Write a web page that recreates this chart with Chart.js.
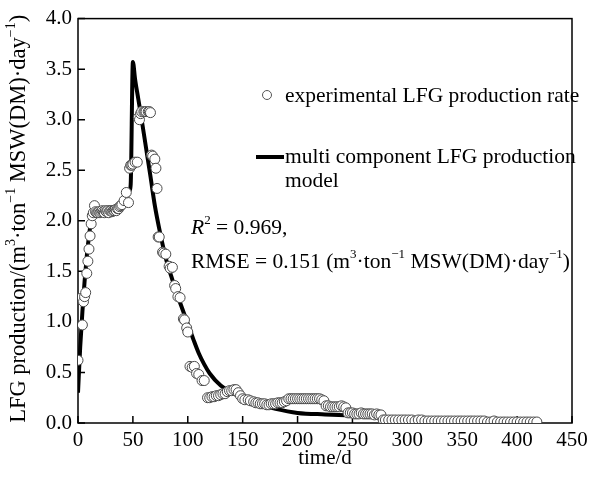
<!DOCTYPE html>
<html>
<head>
<meta charset="utf-8">
<script src="https://cdn.jsdelivr.net/npm/chart.js@4"></script>
<style>
  html, body { margin: 0; padding: 0; background: #fff; }
</style>
</head>
<body>
<canvas id="chart" width="596" height="479"></canvas>
<script>
// measured LFG production rate (days, m3/ton/day)
const expDays = [0, 1, 4, 5, 6, 7, 8, 9, 10, 11, 12, 13, 14, 15, 16, 17, 18, 19, 20, 21, 22, 23, 24, 25, 26, 27, 28, 29, 30, 31, 32, 33, 34, 35, 36, 37, 38, 39, 40, 42, 44, 46, 47, 48, 49, 50, 52, 54, 55, 56, 57, 58, 60, 61, 62, 64, 65, 66, 67, 68, 70, 71, 72,
  73, 74, 77, 78, 80, 83, 84, 86, 88, 89, 91, 93, 96, 97, 99, 100, 102, 104, 106, 108, 110, 113, 115,
  118, 120, 122, 124, 126, 128, 130, 132, 134, 136, 138, 140, 142, 144, 146, 148, 150, 152, 155, 157,
  160, 162, 164, 166, 168, 170, 172, 174, 176, 178, 180, 182, 184, 186, 188, 190,
  192, 194, 196, 198, 200, 202, 204, 206, 208, 210, 212, 214, 216, 218, 220, 222, 224,
  226, 228, 230, 232, 234, 236, 238, 240, 242, 244,
  246, 248, 250, 252, 254, 256, 258, 260, 262, 264, 266, 268, 270, 272, 274, 276,
  278, 280, 283, 286, 289, 292, 295, 298, 301, 304, 307, 310, 313, 316, 319, 322, 325, 328, 331, 334, 337, 340,
  343, 346, 349, 352, 355, 358, 361, 364, 367, 370, 373, 376, 379, 382, 385, 388, 391, 394, 397, 400, 403, 406, 409, 412, 415, 418];
const expRate = [0.62, 1.23, 0.97, 1.20, 1.25, 1.29, 1.48, 1.60, 1.72, 1.85, 1.97, 2.05, 2.08, 2.15, 2.09, 2.08, 2.08, 2.09, 2.08, 2.09, 2.10, 2.09, 2.08, 2.10, 2.09, 2.10, 2.08, 2.10, 2.10, 2.09, 2.10, 2.10, 2.11, 2.10, 2.12, 2.12, 2.14, 2.15, 2.16, 2.20, 2.28, 2.18, 2.52, 2.55, 2.55, 2.56, 2.58, 2.58, 3.02, 3.00, 3.06, 3.08, 3.08, 3.08, 3.08, 3.08, 3.08, 3.07, 2.65, 2.64, 2.61, 2.52, 2.32,
  1.84, 1.84, 1.69, 1.68, 1.67, 1.55, 1.53, 1.54, 1.36, 1.33, 1.25, 1.24, 1.03, 1.02, 0.94, 0.90, 0.56, 0.55, 0.56, 0.49, 0.48, 0.42, 0.42,
  0.25, 0.25, 0.26, 0.26, 0.27, 0.27, 0.28, 0.29, 0.29, 0.31, 0.32, 0.32, 0.33, 0.33, 0.30, 0.27, 0.24, 0.23, 0.23, 0.22,
  0.21, 0.20, 0.20, 0.19, 0.19, 0.19, 0.18, 0.18, 0.19, 0.19, 0.19, 0.20, 0.20, 0.20, 0.21, 0.22,
  0.24, 0.24, 0.24, 0.24, 0.24, 0.24, 0.24, 0.24, 0.24, 0.24, 0.24, 0.24, 0.24, 0.24, 0.24, 0.23, 0.22,
  0.17, 0.17, 0.16, 0.16, 0.16, 0.16, 0.16, 0.17, 0.16, 0.15,
  0.10, 0.10, 0.10, 0.09, 0.09, 0.09, 0.10, 0.09, 0.09, 0.09, 0.09, 0.09, 0.08, 0.09, 0.08, 0.08,
  0.03, 0.03, 0.03, 0.03, 0.03, 0.03, 0.03, 0.03, 0.03, 0.03, 0.02, 0.03, 0.03, 0.02, 0.02, 0.02, 0.02, 0.02, 0.02, 0.02, 0.02, 0.02,
  0.02, 0.02, 0.02, 0.02, 0.02, 0.02, 0.02, 0.02, 0.02, 0.02, 0.01, 0.01, 0.02, 0.01, 0.01, 0.01, 0.01, 0.01, 0.01, 0.01, 0.01, 0.01, 0.01, 0.01, 0.01, 0.01, 0.01];

// multi component model curve
const modelDays = [0, 2, 4, 6, 8, 10, 12, 14, 18, 24, 30, 36, 40, 44, 47, 48, 50, 52, 55, 58, 62, 66, 70, 75, 80, 85, 90, 95, 100, 105, 110, 115, 120, 130, 140, 150, 160, 170, 180, 200, 225, 250, 275, 300, 350, 400, 410];
const modelRate = [0.30, 0.75, 1.10, 1.40, 1.65, 1.85, 2.00, 2.06, 2.08, 2.09, 2.10, 2.12, 2.15, 2.22, 2.30, 2.36, 3.57, 3.40, 3.20, 3.00, 2.72, 2.44, 2.15, 1.87, 1.63, 1.45, 1.28, 1.13, 0.98, 0.83, 0.69, 0.58, 0.49, 0.37, 0.30, 0.25, 0.20, 0.17, 0.14, 0.10, 0.085, 0.075, 0.06, 0.05, 0.03, 0.02, 0.02];

const xTicks = [0, 50, 100, 150, 200, 250, 300, 350, 400, 450];
const yTicks = [0, 0.5, 1, 1.5, 2, 2.5, 3, 3.5, 4];

const FONT = "'Liberation Serif', 'Times New Roman', serif";

// draws text pieces with superscripts / italics, returns the width
function drawRich(ctx, parts, x, y, size, measureOnly) {
    let w = 0;
    for (let i = 0; i < parts.length; i++) {
        const p = parts[i];
        const s = p.sup ? Math.round(size * 0.62) : size;
        ctx.font = (p.it ? 'italic ' : '') + s + 'px ' + FONT;
        if (!measureOnly) {
            ctx.fillText(p.t, x + w, p.sup ? y - size * 0.33 : y);
        }
        w += ctx.measureText(p.t).width;
    }
    return w;
}

const unitParts = [
    { t: '(m' }, { t: '3', sup: true }, { t: '·ton' }, { t: '−1', sup: true },
    { t: ' MSW(DM)·day' }, { t: '−1', sup: true }, { t: ')' }
];

const paperPlugin = {
    id: 'paper',
    beforeDatasetsDraw(chart) {
        const ctx = chart.ctx;
        const a = chart.chartArea;
        const xs = chart.scales.x;
        const ys = chart.scales.y;
        ctx.save();
        ctx.strokeStyle = '#000';
        ctx.lineWidth = 1.5;
        ctx.strokeRect(a.left, a.top, a.right - a.left, a.bottom - a.top);
        ctx.beginPath();
        xs.ticks.forEach(t => {
            const px = xs.getPixelForValue(t.value);
            ctx.moveTo(px, a.bottom);
            ctx.lineTo(px, a.bottom - 7);
        });
        ys.ticks.forEach(t => {
            const py = ys.getPixelForValue(t.value);
            ctx.moveTo(a.left, py);
            ctx.lineTo(a.left + 7, py);
        });
        ctx.stroke();
        ctx.restore();
    },
    afterDraw(chart) {
        const ctx = chart.ctx;
        const a = chart.chartArea;
        ctx.save();
        ctx.fillStyle = '#000';
        ctx.textBaseline = 'middle';
        ctx.textAlign = 'left';

        // y axis title, rotated
        const yParts = [{ t: 'LFG production/' }].concat(unitParts);
        const tw = drawRich(ctx, yParts, 0, 0, 22.5, true);
        ctx.save();
        ctx.translate(19, (a.top + a.bottom) / 2 - 2);
        ctx.rotate(-Math.PI / 2);
        drawRich(ctx, yParts, -tw / 2, 0, 22.5);
        ctx.restore();

        // legend
        ctx.beginPath();
        ctx.arc(267, 95, 4.5, 0, Math.PI * 2);
        ctx.strokeStyle = '#555';
        ctx.lineWidth = 1;
        ctx.stroke();
        drawRich(ctx, [{ t: 'experimental LFG production rate' }], 285, 96, 21.5);

        ctx.beginPath();
        ctx.moveTo(256, 157);
        ctx.lineTo(284, 157);
        ctx.strokeStyle = '#000';
        ctx.lineWidth = 4;
        ctx.stroke();
        drawRich(ctx, [{ t: 'multi component LFG production' }], 285, 157, 21.5);
        drawRich(ctx, [{ t: 'model' }], 285, 181, 21.5);

        // fit statistics
        drawRich(ctx, [{ t: 'R', it: true }, { t: '2', sup: true }, { t: ' = 0.969,' }], 191, 228, 21.5);
        drawRich(ctx, [{ t: 'RMSE = 0.151 ' }].concat(unitParts), 191, 262, 21.5);
        ctx.restore();
    }
};

const expPoints = [];
for (let i = 0; i < expDays.length; i++) {
    expPoints.push({ x: expDays[i], y: expRate[i] });
}
const modelPoints = [];
for (let i = 0; i < modelDays.length; i++) {
    modelPoints.push({ x: modelDays[i], y: modelRate[i] });
}

new Chart(document.getElementById('chart'), {
    type: 'scatter',
    data: {
        datasets: [
            {
                label: 'experimental LFG production rate',
                data: expPoints,
                pointRadius: 5,
                pointBorderWidth: 1,
                pointBorderColor: '#4a4a4a',
                pointBackgroundColor: '#ffffff',
                order: 1
            },
            {
                type: 'line',
                label: 'multi component LFG production model',
                data: modelPoints,
                borderColor: '#000',
                borderWidth: 4,
                pointRadius: 0,
                cubicInterpolationMode: 'monotone',
                fill: false,
                order: 2
            }
        ]
    },
    options: {
        responsive: false,
        animation: false,
        layout: { padding: { top: 18, right: 24, left: 0, bottom: 0 } },
        plugins: {
            legend: { display: false },
            tooltip: { enabled: false }
        },
        scales: {
            x: {
                type: 'linear',
                min: 0,
                max: 450,
                afterBuildTicks: scale => { scale.ticks = xTicks.map(v => ({ value: v })); },
                grid: { display: false, drawTicks: false },
                border: { display: false },
                ticks: {
                    color: '#000',
                    padding: 5,
                    maxRotation: 0,
                    font: { family: FONT, size: 21 }
                },
                title: {
                    display: true,
                    text: 'time/d',
                    color: '#000',
                    font: { family: FONT, size: 21 },
                    padding: { top: 2, bottom: 8 }
                },
                afterFit: scale => { scale.height = 56; }
            },
            y: {
                type: 'linear',
                min: 0,
                max: 4,
                afterBuildTicks: scale => { scale.ticks = yTicks.map(v => ({ value: v })); },
                grid: { display: false, drawTicks: false },
                border: { display: false },
                ticks: {
                    color: '#000',
                    padding: 6,
                    font: { family: FONT, size: 21 },
                    callback: v => v.toFixed(1)
                },
                afterFit: scale => { scale.width = 78; }
            }
        }
    },
    plugins: [paperPlugin]
});
</script>
</body>
</html>
